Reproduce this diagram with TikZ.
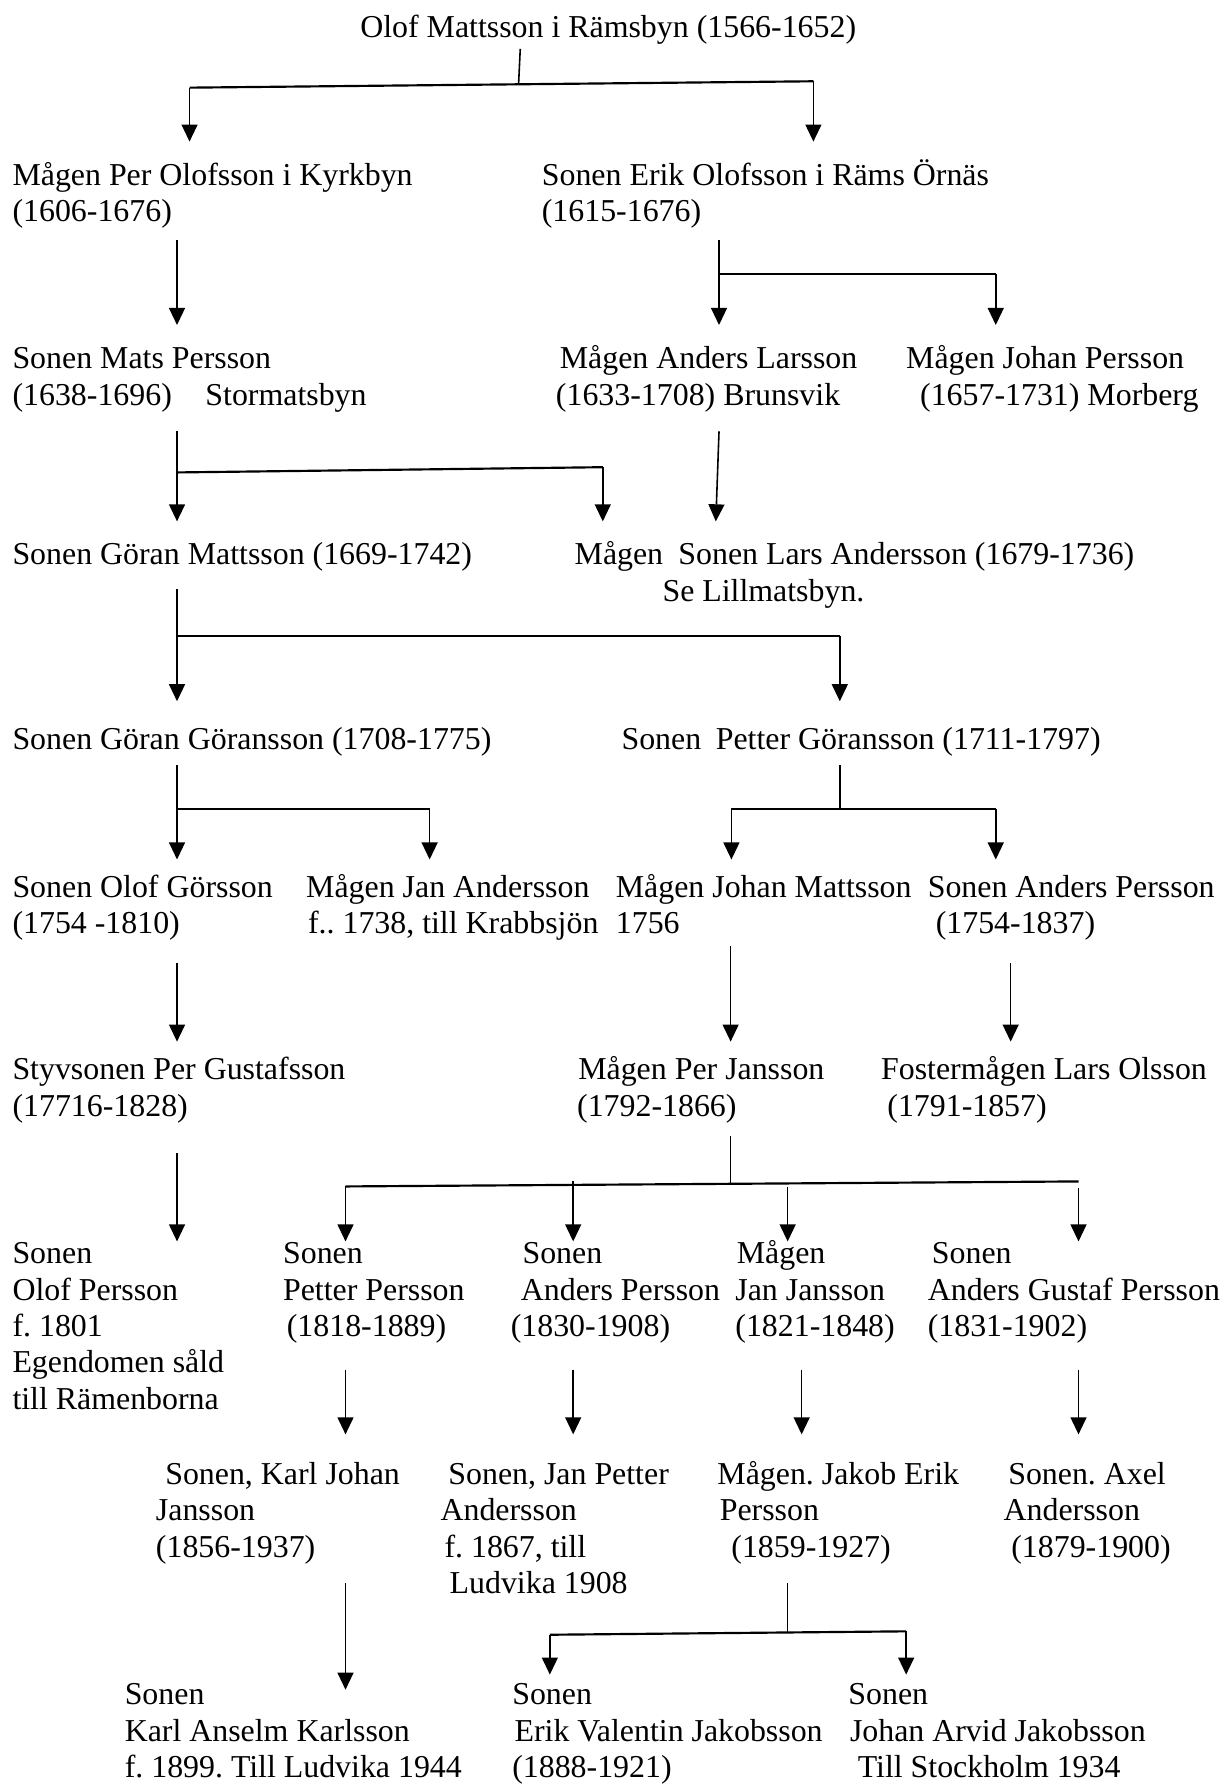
\documentclass[tikz,border=0pt]{standalone}
\usepackage{fontspec}
\setmainfont{Liberation Serif}
\usetikzlibrary{arrows.meta}
\frenchspacing
\newcommand\lns[1]{\begin{tabular}[t]{@{}l@{}}#1\end{tabular}}
\begin{document}
\begin{tikzpicture}[x=1pt,y=-1pt,
  person/.style={anchor=base west, inner sep=0pt, outer sep=0pt, font=\fontsize{28}{32}\selectfont\frenchspacing},
  arr/.style={-{Triangle[length=15pt,width=14pt]}, line width=1.4pt},
  vl/.style={line width=1.4pt},
  bar/.style={line width=1.9pt}]
\useasboundingbox (0,0) rectangle (1075,1568);
% ---------------- nodes
\node[person] (olof) at (316.5,33) {Olof Mattsson i Rämsbyn (1566-1652)};
\node[person] (perolof) at (11,163) {\lns{Mågen Per Olofsson i Kyrkbyn\\(1606-1676)}};
\node[person] (erik) at (476,163) {\lns{Sonen Erik Olofsson i Räms Örnäs\\(1615-1676)}};
\node[person] (mats) at (11,324) {\lns{Sonen Mats Persson\\(1638-1696)\hspace{29.5pt}Stormatsbyn}};
\node[person] (anders) at (488.4,324) {\lns{\hspace*{3.4pt}Mågen Anders Larsson\\(1633-1708) Brunsvik}};
\node[person] (johanp) at (796,324) {\lns{Mågen Johan Persson\\\hspace*{12.3pt}(1657-1731) Morberg}};
\node[person] (goranm) at (11,496) {Sonen Göran Mattsson (1669-1742)};
\node[person] (lars) at (504.8,496) {\lns{Mågen\hspace{13.4pt}Sonen Lars Andersson (1679-1736)\\\hspace*{77.2pt}Se Lillmatsbyn.}};
\node[person] (gorang) at (11,658) {Sonen Göran Göransson (1708-1775)};
\node[person] (petter) at (546,658) {Sonen\hspace{12.8pt}Petter Göransson (1711-1797)};
\node[person] (olofg) at (11,788) {\lns{Sonen Olof Görsson\\(1754 -1810)}};
\node[person] (jana) at (269,788) {\lns{Mågen Jan Andersson\\\hspace*{1.6pt}f.. 1738, till Krabbsjön}};
\node[person] (johanm) at (541,788) {\lns{Mågen Johan Mattsson\\1756}};
\node[person] (andersp) at (815,788) {\lns{Sonen Anders Persson\\\hspace*{7pt}(1754-1837)}};
\node[person] (styv) at (11,948.5) {\lns{Styvsonen Per Gustafsson\\(17716-1828)}};
\node[person] (perj) at (507,948.5) {\lns{\hspace*{1pt}Mågen Per Jansson\\(1792-1866)}};
\node[person] (lolsson) at (774,948.5) {\lns{Fostermågen Lars Olsson\\\hspace*{5.5pt}(1791-1857)}};
\node[person] (olofp) at (11,1110) {\lns{Sonen\\Olof Persson\\f. 1801\\Egendomen såld\\till Rämenborna}};
\node[person] (petterp) at (248.7,1110) {\lns{Sonen\\Petter Persson\\\hspace*{3.3pt}(1818-1889)}};
\node[person] (anderspp) at (448.7,1110) {\lns{\hspace*{10.3pt}Sonen\\\hspace*{8.9pt}Anders Persson\\(1830-1908)}};
\node[person] (janj) at (646,1110) {\lns{\hspace*{1.3pt}Mågen\\Jan Jansson\\(1821-1848)}};
\node[person] (agustaf) at (815,1110) {\lns{\hspace*{3.6pt}Sonen\\Anders Gustaf Persson\\(1831-1902)}};
\node[person] (karlj) at (137,1304) {\lns{\hspace*{8.2pt}Sonen, Karl Johan\\Jansson\\(1856-1937)}};
\node[person] (janp) at (387,1304) {\lns{\hspace*{6.9pt}Sonen, Jan Petter\\Andersson\\\hspace*{3.5pt}f. 1867, till\\\hspace*{8pt}Ludvika 1908}};
\node[person] (jakob) at (630.2,1304) {\lns{Mågen. Jakob Erik\\\hspace*{2.1pt}Persson\\\hspace*{12.3pt}(1859-1927)}};
\node[person] (axel) at (881.6,1304) {\lns{\hspace*{4.1pt}Sonen. Axel\\Andersson\\\hspace*{6.8pt}(1879-1900)}};
\node[person] (karla) at (109.6,1497.5) {\lns{Sonen\\Karl Anselm Karlsson\\f. 1899. Till Ludvika 1944}};
\node[person] (erikv) at (450,1497.5) {\lns{Sonen\\\hspace*{2pt}Erik Valentin Jakobsson\\(1888-1921)}};
\node[person] (johana) at (745.3,1497.5) {\lns{Sonen\\\hspace*{1.4pt}Johan Arvid Jakobsson\\\hspace*{8.2pt}Till Stockholm 1934}};
% ---------------- junction coordinates
\coordinate (o0) at (457,43);
\coordinate (o1) at (455.5,74.6);
\coordinate (oL) at (166.5,77);
\coordinate (oR) at (714.5,71.4);
\coordinate (e0) at (631.6,211);
\coordinate (e1) at (631.6,240.7);
\coordinate (eR) at (874.7,240.7);
\coordinate (m0) at (155.5,379);
\coordinate (m1) at (155.5,415);
\coordinate (mR) at (529.5,410.4);
\coordinate (a0) at (631.6,379);
\coordinate (g0) at (155.5,517.6);
\coordinate (g1) at (155.5,558.6);
\coordinate (gR) at (737.7,558.6);
\coordinate (h0) at (155.5,672);
\coordinate (h1) at (155.5,710.8);
\coordinate (hR) at (377.4,710.8);
\coordinate (p0) at (737.7,672);
\coordinate (p1) at (737.7,710.8);
\coordinate (pL) at (642.5,710.8);
\coordinate (pR) at (874.7,710.8);
\coordinate (j0) at (641.8,998);
\coordinate (j1) at (641.8,1039.8);
\coordinate (jL) at (303.5,1042.2);
\coordinate (jR) at (947.4,1037.8);
\coordinate (k0) at (691.9,1390.6);
\coordinate (k1) at (691.9,1434.5);
\coordinate (kL) at (483,1436);
\coordinate (kR) at (796,1433);
% ---------------- connectors
\draw[vl] (o0) -- (o1);
\draw[bar] (oL) -- (oR);
\draw[arr] (oL) -- (166.5,124.4);
\draw[arr] (oR) -- (714.5,124.4);
\draw[arr] (155.5,211) -- (155.5,285.5);
\draw[vl] (e0) -- (e1);
\draw[arr] (e1) -- (631.6,285.5);
\draw[bar] (e1) -- (eR);
\draw[arr] (eR) -- (874.7,285.5);
\draw[arr] (m0) -- (155.5,458);
\draw[bar] (m1) -- (mR);
\draw[arr] (mR) -- (529.5,458);
\draw[arr] (a0) -- (628.8,458);
\draw[arr] (g0) -- (155.5,616);
\draw[bar] (g1) -- (gR);
\draw[arr] (gR) -- (737.7,616);
\draw[arr] (h0) -- (155.5,755);
\draw[bar] (h1) -- (hR);
\draw[arr] (hR) -- (377.4,755);
\draw[vl] (p0) -- (p1);
\draw[bar] (pL) -- (pR);
\draw[arr] (pL) -- (642.5,755);
\draw[arr] (pR) -- (874.7,755);
\draw[arr] (155.5,846) -- (155.5,915);
\draw[arr] (641.8,831.4) -- (641.8,915);
\draw[arr] (887.8,846) -- (887.8,915);
\draw[arr] (155.5,1013) -- (155.5,1090.5);
\draw[vl] (j0) -- (j1);
\draw[bar] (jL) -- (jR);
\draw[arr] (jL) -- (303.5,1090.5);
\draw[arr] (503.5,1037) -- (503.5,1090.5);
\draw[arr] (691.9,1043) -- (691.9,1090.5);
\draw[arr] (947.4,1044) -- (947.4,1090.5);
\draw[arr] (303.5,1203) -- (303.5,1260);
\draw[arr] (503.5,1203) -- (503.5,1260);
\draw[arr] (704.2,1203) -- (704.2,1260);
\draw[arr] (947.4,1203) -- (947.4,1260);
\draw[arr] (303.5,1390.6) -- (303.5,1484.3);
\draw[vl] (k0) -- (k1);
\draw[bar] (kL) -- (kR);
\draw[arr] (kL) -- (483,1471);
\draw[arr] (kR) -- (796,1471);
\end{tikzpicture}
\end{document}
